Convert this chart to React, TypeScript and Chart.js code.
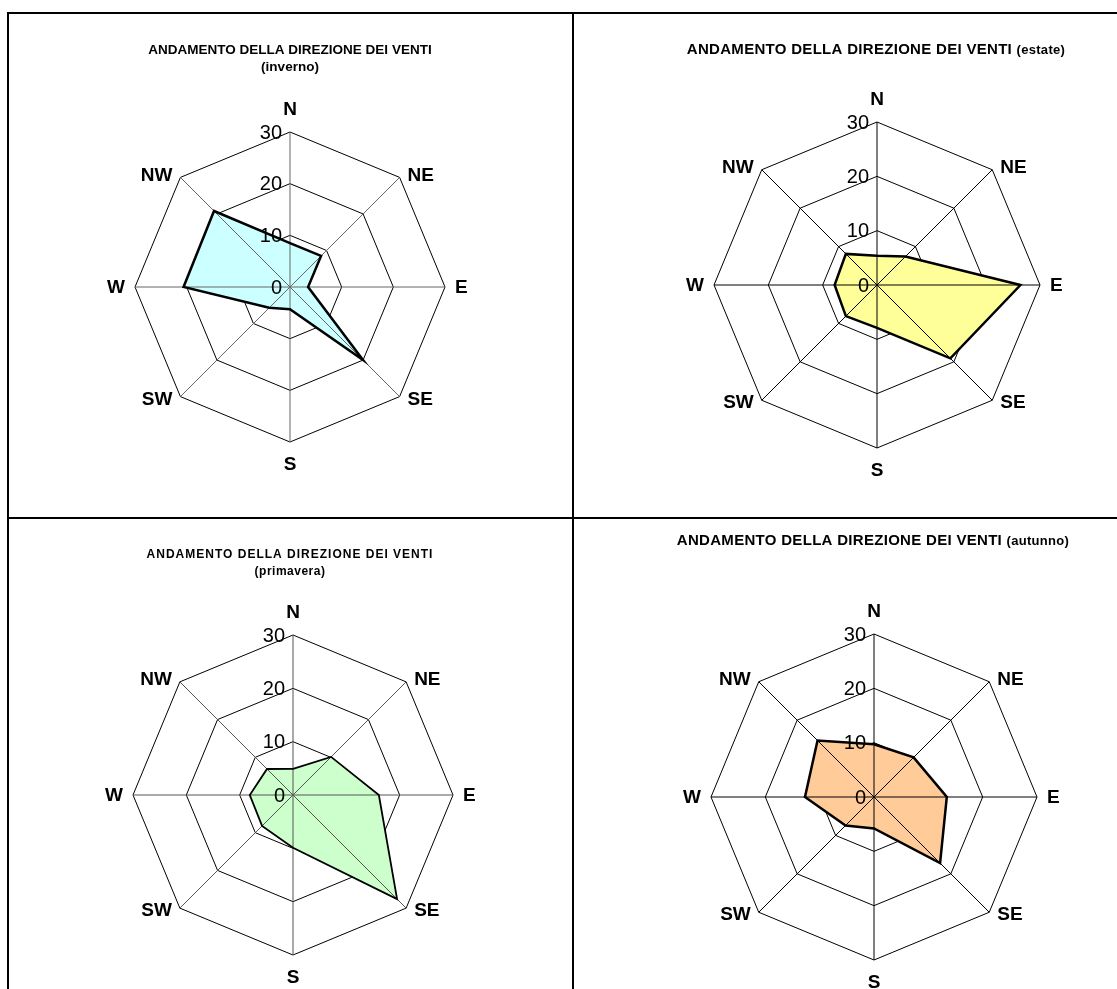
import React, { useEffect, useRef } from "react";
import { Chart, registerables } from "chart.js";

Chart.register(...registerables);

// ---------- data ----------
const directions = ["N", "NE", "E", "SE", "S", "SW", "W", "NW"];
const tickValues = [0, 10, 20, 30];
const inverno = [8.5, 8.5, 3.5, 20, 4.3, 5.7, 20.6, 20.8];
const estate = [5.4, 7.4, 26.4, 19.1, 7.9, 8.1, 7.8, 8.1];
const primavera = [4.9, 10.1, 16.1, 27.6, 9.9, 8.2, 8.1, 6.9];
const autunno = [9.7, 10.3, 13.4, 17.2, 5.8, 7.4, 12.7, 14.7];
const titleMain = "ANDAMENTO DELLA DIREZIONE DEI VENTI";
const seasonInverno = "(inverno)";
const seasonEstate = "(estate)";
const seasonPrimavera = "(primavera)";
const seasonAutunno = "(autunno)";

const FONT = "'Liberation Sans', Arial, sans-serif";

type Part = { text: string; font: string; spacing?: number };
type Line = { y: number; parts: Part[] };

type PanelProps = {
  x: number; y: number; w: number; h: number;
  cx: number; cy: number; r: number;
  values: number[];
  fill: string;
  borderWidth: number;
  spokeColor: string;
  titleX: number;
  lines: Line[];
};

const decorPlugin = {
  id: "decor",
  afterDatasetDraw(chart: any, args: any, opts: any) {
    if (args.index !== 1) return;
    const scale = chart.scales.r;
    const ctx = chart.ctx;
    const R = scale.drawingArea;
    ctx.save();
    ctx.strokeStyle = opts.spokeColor;
    ctx.lineWidth = 1;
    for (let i = 0; i < chart.data.labels.length; i++) {
      const p = scale.getPointPosition(i, R);
      ctx.beginPath();
      ctx.moveTo(scale.xCenter, scale.yCenter);
      ctx.lineTo(p.x, p.y);
      ctx.stroke();
    }
    ctx.restore();
  },
  afterDatasetsDraw(chart: any, _args: any, opts: any) {
    const scale = chart.scales.r;
    const ctx = chart.ctx;
    const R = scale.drawingArea;
    ctx.save();
    // tick labels
    ctx.fillStyle = "#000";
    ctx.font = `20px ${FONT}`;
    ctx.textAlign = "right";
    ctx.textBaseline = "middle";
    for (const v of tickValues) {
      const d = scale.getDistanceFromCenterForValue(v);
      ctx.fillText(String(v), scale.xCenter - 8, scale.yCenter - d + 1);
    }
    // point labels
    ctx.font = `bold 19px ${FONT}`;
    const labels: string[] = chart.data.labels;
    labels.forEach((lab, i) => {
      const p = scale.getPointPosition(i, R);
      let x = p.x, y = p.y;
      if (lab === "N") { ctx.textAlign = "center"; ctx.textBaseline = "alphabetic"; y -= 17; }
      else if (lab === "S") { ctx.textAlign = "center"; ctx.textBaseline = "top"; y += 13; }
      else if (lab === "E") { ctx.textAlign = "left"; ctx.textBaseline = "middle"; x += 10; y += 1; }
      else if (lab === "W") { ctx.textAlign = "right"; ctx.textBaseline = "middle"; x -= 10; y += 1; }
      else if (lab === "NE") { ctx.textAlign = "left"; ctx.textBaseline = "middle"; x += 8; y -= 2; }
      else if (lab === "SE") { ctx.textAlign = "left"; ctx.textBaseline = "middle"; x += 8; y += 3; }
      else if (lab === "SW") { ctx.textAlign = "right"; ctx.textBaseline = "middle"; x -= 8; y += 3; }
      else if (lab === "NW") { ctx.textAlign = "right"; ctx.textBaseline = "middle"; x -= 8; y -= 2; }
      ctx.fillText(lab, x, y);
    });
    // title
    const lines: Line[] = opts.lines;
    ctx.textBaseline = "middle";
    ctx.textAlign = "left";
    for (const line of lines) {
      let total = 0;
      const widths: number[] = [];
      for (const part of line.parts) {
        ctx.font = part.font;
        (ctx as any).letterSpacing = `${part.spacing || 0}px`;
        const w = ctx.measureText(part.text).width;
        widths.push(w);
        total += w;
      }
      let xx = opts.titleX - total / 2;
      line.parts.forEach((part, k) => {
        ctx.font = part.font;
        (ctx as any).letterSpacing = `${part.spacing || 0}px`;
        ctx.fillText(part.text, xx, line.y);
        xx += widths[k];
      });
    }
    (ctx as any).letterSpacing = "0px";
    ctx.restore();
  },
};

function Panel(props: PanelProps) {
  const ref = useRef<HTMLCanvasElement | null>(null);
  useEffect(() => {
    if (!ref.current) return;
    const { x, y, w, h, cx, cy, r } = props;
    const chart = new Chart(ref.current, {
      type: "radar",
      data: {
        labels: directions,
        datasets: [
          {
            data: props.values,
            borderColor: "#000",
            borderWidth: props.borderWidth,
            backgroundColor: "transparent",
            fill: false,
            pointRadius: 0,
          },
          {
            data: props.values,
            borderWidth: 0,
            borderColor: "transparent",
            backgroundColor: props.fill,
            fill: true,
            pointRadius: 0,
          },
        ],
      },
      options: {
        responsive: false,
        animation: false,
        layout: {
          padding: {
            left: cx - r - x,
            top: cy - r - y,
            right: x + w - (cx + r),
            bottom: y + h - (cy + r),
          },
        },
        elements: { line: { tension: 0 }, point: { radius: 0 } },
        plugins: {
          legend: { display: false },
          tooltip: { enabled: false },
          title: { display: false },
          decor: {
            spokeColor: props.spokeColor,
            titleX: props.titleX - x,
            lines: props.lines.map((l) => ({ ...l, y: l.y - y })),
          },
        } as any,
        scales: {
          r: {
            min: 0,
            max: 30,
            startAngle: 0,
            ticks: { display: false, stepSize: 10 },
            pointLabels: { display: false },
            angleLines: { display: false },
            grid: { color: "#000", lineWidth: 1, circular: false },
          },
        },
      },
      plugins: [decorPlugin],
    });
    return () => chart.destroy();
  }, []);
  return (
    <canvas
      ref={ref}
      width={props.w}
      height={props.h}
      style={{ position: "absolute", left: props.x, top: props.y, width: props.w, height: props.h }}
    />
  );
}

const mainFont = `bold 13.5px ${FONT}`;
const wideFont = `bold 15px ${FONT}`;
const smallFont = `bold 13px ${FONT}`;
const spacedFont = `bold 12px ${FONT}`;

export default function App() {
  const line = (l: number, t: number, w: number, h: number) => (
    <div style={{ position: "absolute", left: l, top: t, width: w, height: h, background: "#000" }} />
  );
  return (
    <div style={{ position: "absolute", left: 0, top: 0, width: 1117, height: 989, overflow: "hidden", background: "#fff" }}>
      <Panel
        x={9} y={14} w={563} h={503}
        cx={290} cy={287} r={155}
        values={inverno} fill="#CCFFFF" borderWidth={2.5} spokeColor="#666"
        titleX={290}
        lines={[
          { y: 50, parts: [{ text: titleMain, font: mainFont }] },
          { y: 67, parts: [{ text: seasonInverno, font: mainFont }] },
        ]}
      />
      <Panel
        x={574} y={14} w={543} h={503}
        cx={877} cy={285} r={163}
        values={estate} fill="#FFFF99" borderWidth={2.5} spokeColor="#000"
        titleX={876}
        lines={[
          { y: 50, parts: [{ text: titleMain + " ", font: wideFont, spacing: 0.3 }, { text: seasonEstate, font: smallFont, spacing: 0.3 }] },
        ]}
      />
      <Panel
        x={9} y={519} w={563} h={470}
        cx={293} cy={795} r={160}
        values={primavera} fill="#CCFFCC" borderWidth={1.8} spokeColor="#555"
        titleX={290}
        lines={[
          { y: 555, parts: [{ text: titleMain, font: spacedFont, spacing: 1 }] },
          { y: 572, parts: [{ text: seasonPrimavera, font: spacedFont, spacing: 0.5 }] },
        ]}
      />
      <Panel
        x={574} y={519} w={543} h={470}
        cx={874} cy={797} r={163}
        values={autunno} fill="#FFCC99" borderWidth={2.5} spokeColor="#000"
        titleX={873}
        lines={[
          { y: 541, parts: [{ text: titleMain + " ", font: wideFont, spacing: 0.3 }, { text: seasonAutunno, font: smallFont, spacing: 0.3 }] },
        ]}
      />
      {line(7, 12, 1110, 2)}
      {line(7, 12, 2, 977)}
      {line(572, 12, 2, 977)}
      {line(7, 517, 1110, 2)}
    </div>
  );
}
